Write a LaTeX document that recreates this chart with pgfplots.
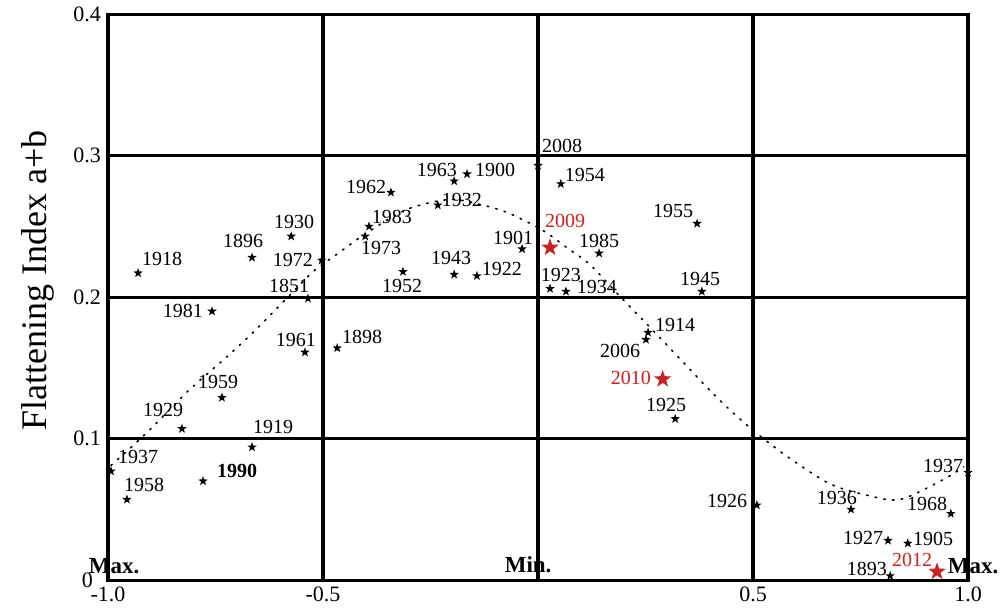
\documentclass[border=0pt]{standalone}
\usepackage{fontspec}
\setmainfont{Liberation Serif}
\usepackage{pgfplots}
\pgfplotsset{compat=1.18}
\definecolor{myred}{RGB}{205,32,32}
\tikzset{yr/.style={font=\fontsize{10}{12}\selectfont, inner sep=0pt}}
\pgfdeclareplotmark{fstar}{%
\pgfpathmoveto{\pgfpointpolar{90}{\pgfplotmarksize}}%
\pgfpathlineto{\pgfpointpolar{126}{0.4*\pgfplotmarksize}}%
\pgfpathlineto{\pgfpointpolar{162}{\pgfplotmarksize}}%
\pgfpathlineto{\pgfpointpolar{198}{0.4*\pgfplotmarksize}}%
\pgfpathlineto{\pgfpointpolar{234}{\pgfplotmarksize}}%
\pgfpathlineto{\pgfpointpolar{270}{0.4*\pgfplotmarksize}}%
\pgfpathlineto{\pgfpointpolar{306}{\pgfplotmarksize}}%
\pgfpathlineto{\pgfpointpolar{342}{0.4*\pgfplotmarksize}}%
\pgfpathlineto{\pgfpointpolar{18}{\pgfplotmarksize}}%
\pgfpathlineto{\pgfpointpolar{54}{0.4*\pgfplotmarksize}}%
\pgfpathclose
\pgfusepathqfill
}
\begin{document}
\begin{tikzpicture}
\begin{axis}[name=ax, scale only axis, width=430pt, height=283pt,
  xmin=-1, xmax=1, ymin=0, ymax=0.4,
  xtick={-1,-0.5,0,0.5,1}, xticklabels={-1.0,-0.5,,0.5,1.0},
  ytick={0,0.1,0.2,0.3,0.4}, yticklabels={{\raisebox{-2pt}{0}\hspace*{4pt}},0.1,0.2,0.3,0.4},
  grid=major, major grid style={line width=1.6pt, black},
  axis line style={line width=1.6pt},
  major tick length=0pt,
  tick label style={font=\fontsize{11}{12}\selectfont},
  /pgf/number format/assume math mode=true,
  ylabel={Flattening Index a+b},
  ylabel style={font=\fontsize{18}{20}\selectfont, at={(axis description cs:-0.0814,0.53)}, anchor=center},
  clip=false,
]
\addplot[black, line width=0.8pt, dash pattern=on 0.8pt off 3.6pt, line cap=round, smooth, tension=0.5] coordinates {
(-0.993,0.081) (-0.907,0.105) (-0.816,0.133) (-0.723,0.158) (-0.663,0.175)
(-0.588,0.198) (-0.523,0.218) (-0.460,0.232) (-0.400,0.245) (-0.305,0.262)
(-0.205,0.269) (-0.128,0.265) (-0.065,0.259) (0.012,0.247) (0.067,0.235)
(0.121,0.223) (0.186,0.202) (0.256,0.180) (0.319,0.160) (0.400,0.134)
(0.458,0.117) (0.516,0.102) (0.586,0.086) (0.679,0.068) (0.765,0.060)
(0.842,0.057) (0.942,0.071) (0.990,0.080)
};
\addplot[only marks, mark=fstar, mark size=2.5pt, black] table {
x y
-0.930 0.217
-0.665 0.228
-0.574 0.243
-0.503 0.226
-0.535 0.199
-0.758 0.190
-0.542 0.161
-0.467 0.164
-0.735 0.129
-0.828 0.107
-0.665 0.094
-0.993 0.077
-0.779 0.070
-0.956 0.057
-0.342 0.274
-0.195 0.282
-0.165 0.287
-0.233 0.265
-0.393 0.250
-0.402 0.243
-0.037 0.234
-0.314 0.218
-0.195 0.216
-0.142 0.215
0.000 0.293
0.053 0.280
0.370 0.252
0.142 0.231
0.028 0.206
0.065 0.204
0.381 0.204
0.256 0.175
0.251 0.170
0.319 0.114
0.509 0.053
1.000 0.076
0.728 0.050
0.960 0.047
0.814 0.028
0.860 0.026
0.819 0.003
};
\addplot[only marks, mark=fstar, mark size=4.6pt, myred] table {
x y
0.028 0.235
0.290 0.142
0.928 0.006
};
\node[yr] at (axis cs:-0.874,0.227) {1918};
\node[yr] at (axis cs:-0.686,0.240) {1896};
\node[yr] at (axis cs:-0.567,0.253) {1930};
\node[yr] at (axis cs:-0.570,0.226) {1972};
\node[yr] at (axis cs:-0.579,0.208) {1851};
\node[yr] at (axis cs:-0.826,0.190) {1981};
\node[yr] at (axis cs:-0.563,0.170) {1961};
\node[yr] at (axis cs:-0.409,0.172) {1898};
\node[yr] at (axis cs:-0.744,0.140) {1959};
\node[yr] at (axis cs:-0.872,0.120) {1929};
\node[yr] at (axis cs:-0.616,0.108) {1919};
\node[yr] at (axis cs:-0.930,0.087) {1937};
\node[yr, font=\fontsize{10}{12}\selectfont\bfseries] at (axis cs:-0.700,0.077) {1990};
\node[yr] at (axis cs:-0.916,0.067) {1958};
\node[yr] at (axis cs:-0.400,0.278) {1962};
\node[yr] at (axis cs:-0.235,0.290) {1963};
\node[yr] at (axis cs:-0.100,0.290) {1900};
\node[yr] at (axis cs:-0.177,0.269) {1932};
\node[yr] at (axis cs:-0.340,0.257) {1983};
\node[yr] at (axis cs:-0.365,0.235) {1973};
\node[yr] at (axis cs:-0.058,0.242) {1901};
\node[yr] at (axis cs:-0.202,0.228) {1943};
\node[yr] at (axis cs:-0.084,0.220) {1922};
\node[yr] at (axis cs:-0.316,0.208) {1952};
\node[yr] at (axis cs:0.056,0.307) {2008};
\node[yr] at (axis cs:0.109,0.286) {1954};
\node[yr] at (axis cs:0.314,0.261) {1955};
\node[yr, text=myred] at (axis cs:0.063,0.254) {2009};
\node[yr] at (axis cs:0.142,0.240) {1985};
\node[yr] at (axis cs:0.053,0.216) {1923};
\node[yr] at (axis cs:0.137,0.207) {1934};
\node[yr] at (axis cs:0.377,0.213) {1945};
\node[yr] at (axis cs:0.319,0.180) {1914};
\node[yr] at (axis cs:0.191,0.162) {2006};
\node[yr, text=myred] at (axis cs:0.216,0.143) {2010};
\node[yr] at (axis cs:0.298,0.124) {1925};
\node[yr] at (axis cs:0.440,0.056) {1926};
\node[yr] at (axis cs:0.942,0.081) {1937};
\node[yr] at (axis cs:0.695,0.058) {1936};
\node[yr] at (axis cs:0.905,0.054) {1968};
\node[yr] at (axis cs:0.756,0.030) {1927};
\node[yr] at (axis cs:0.919,0.029) {1905};
\node[yr] at (axis cs:0.765,0.008) {1893};
\node[yr, text=myred] at (axis cs:0.870,0.014) {2012};
\node[font=\fontsize{11.5}{12}\selectfont\bfseries, inner sep=0pt] at (axis cs:-0.986,0.010) {Max.};
\node[font=\fontsize{11.5}{12}\selectfont\bfseries, inner sep=0pt] at (axis cs:-0.023,0.011) {Min.};
\node[font=\fontsize{11.5}{12}\selectfont\bfseries, inner sep=0pt] at (axis cs:1.012,0.010) {Max.};
\end{axis}
\path (ax.south west) ++(-54pt,-16pt) rectangle ++(500.5pt,305pt);
\end{tikzpicture}
\end{document}
